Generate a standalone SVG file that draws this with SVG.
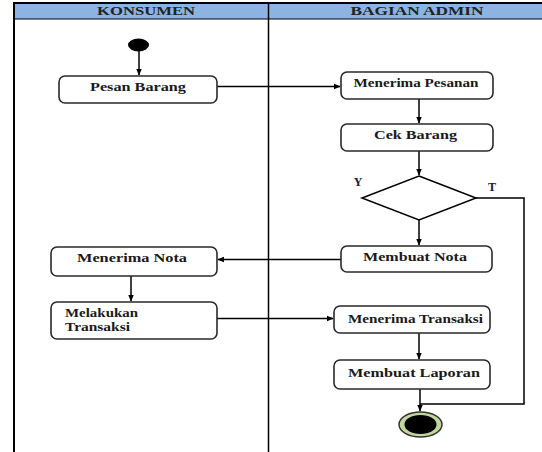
<svg xmlns="http://www.w3.org/2000/svg" width="542" height="452" viewBox="0 0 542 452">
<defs>
<style>
.box{fill:#fff;stroke:#2a2a2a;stroke-width:1.6}
.shadow{fill:none;stroke:#bbb;stroke-width:2}
.t{font-family:"Liberation Serif","Times New Roman",serif;font-weight:bold;font-size:12px;fill:#1a1a1a}
.h{font-family:"Liberation Serif","Times New Roman",serif;font-weight:bold;font-size:12px;fill:#222}
.ln{fill:none;stroke:#000;stroke-width:1.5}
</style>
<marker id="ah" viewBox="0 0 10 10" refX="9" refY="5" markerWidth="7" markerHeight="7" markerUnits="userSpaceOnUse" orient="auto">
<path d="M0,1 L10,5 L0,9 z" fill="#000"/>
</marker>
</defs>
<rect width="542" height="452" fill="#fff"/>
<g id="swimlanes">
<rect x="14" y="4" width="530" height="15" fill="#8db3e2"/>
<line x1="13" y1="3" x2="542" y2="3" stroke="#000" stroke-width="2"/>
<line x1="14" y1="19" x2="542" y2="19" stroke="#000" stroke-width="1"/>
<line x1="14" y1="3" x2="14" y2="452" stroke="#000" stroke-width="2"/>
<line x1="268.5" y1="4" x2="268.5" y2="452" stroke="#000" stroke-width="1.5"/>
<text class="h" x="146" y="15" text-anchor="middle" textLength="98" lengthAdjust="spacingAndGlyphs">KONSUMEN</text>
<text class="h" x="417" y="15" text-anchor="middle" textLength="133" lengthAdjust="spacingAndGlyphs">BAGIAN ADMIN</text>
</g>
<g id="connectors">
<line class="ln" x1="139" y1="50" x2="139" y2="75" marker-end="url(#ah)"/>
<line class="ln" x1="217" y1="86.5" x2="340" y2="86.5" marker-end="url(#ah)"/>
<line class="ln" x1="419" y1="99" x2="419" y2="123" marker-end="url(#ah)"/>
<line class="ln" x1="419" y1="151" x2="419" y2="175" marker-end="url(#ah)"/>
<line class="ln" x1="419" y1="220" x2="419" y2="245" marker-end="url(#ah)"/>
<polyline class="ln" points="476,198 524,198 524,404 420,404"/>
<line class="ln" x1="341" y1="259.5" x2="218" y2="259.5" marker-end="url(#ah)"/>
<line class="ln" x1="131" y1="276" x2="131" y2="301" marker-end="url(#ah)"/>
<line class="ln" x1="217" y1="318.5" x2="333" y2="318.5" marker-end="url(#ah)"/>
<line class="ln" x1="419" y1="333" x2="419" y2="359" marker-end="url(#ah)"/>
<line class="ln" x1="420" y1="389" x2="420" y2="411" marker-end="url(#ah)"/>
</g>
<g id="start">
<ellipse cx="138.5" cy="45" rx="10.5" ry="6.5" fill="#000"/>
</g>
<g id="pesan-barang">
<rect class="box" x="59" y="76" width="158" height="27" rx="6"/>
<text class="t" x="138" y="91" text-anchor="middle" textLength="96" lengthAdjust="spacingAndGlyphs">Pesan Barang</text>
</g>
<g id="menerima-pesanan">
<rect class="box" x="341" y="72" width="152" height="27" rx="6"/>
<text class="t" x="416" y="87" text-anchor="middle" textLength="125" lengthAdjust="spacingAndGlyphs">Menerima Pesanan</text>
</g>
<g id="cek-barang">
<rect class="box" x="341" y="124" width="152" height="27" rx="6"/>
<text class="t" x="415.5" y="139" text-anchor="middle" textLength="83" lengthAdjust="spacingAndGlyphs">Cek Barang</text>
</g>
<g id="decision">
<polygon points="419,176 476,198 419,220 362,198" fill="#fff" stroke="#000" stroke-width="1.5"/>
<text class="t" x="358" y="186" text-anchor="middle">Y</text>
<text class="t" x="492" y="191" text-anchor="middle">T</text>
</g>
<g id="membuat-nota">
<rect class="box" x="341" y="246" width="151" height="26" rx="6"/>
<text class="t" x="415" y="261" text-anchor="middle" textLength="104" lengthAdjust="spacingAndGlyphs">Membuat Nota</text>
</g>
<g id="menerima-nota">
<rect class="box" x="51" y="247" width="166" height="29" rx="6"/>
<text class="t" x="132" y="262" text-anchor="middle" textLength="110" lengthAdjust="spacingAndGlyphs">Menerima  Nota</text>
</g>
<g id="melakukan-transaksi">
<rect class="box" x="51" y="302" width="166" height="37" rx="6"/>
<text class="t" x="65" y="317" textLength="73" lengthAdjust="spacingAndGlyphs">Melakukan</text>
<text class="t" x="65" y="331" textLength="65" lengthAdjust="spacingAndGlyphs">Transaksi</text>
</g>
<g id="menerima-transaksi">
<rect class="box" x="334" y="306" width="156" height="27" rx="6"/>
<text class="t" x="415.5" y="322.5" text-anchor="middle" textLength="135" lengthAdjust="spacingAndGlyphs">Menerima Transaksi</text>
</g>
<g id="membuat-laporan">
<rect class="box" x="334" y="360" width="156" height="29" rx="6"/>
<text class="t" x="414" y="377" text-anchor="middle" textLength="132" lengthAdjust="spacingAndGlyphs">Membuat Laporan</text>
</g>
<g id="end">
<ellipse cx="420.5" cy="424.5" rx="21.5" ry="12.5" fill="#c3d69b" stroke="#333" stroke-width="1.5"/>
<ellipse cx="420.5" cy="424.5" rx="16" ry="9.5" fill="#000"/>
</g>
</svg>
